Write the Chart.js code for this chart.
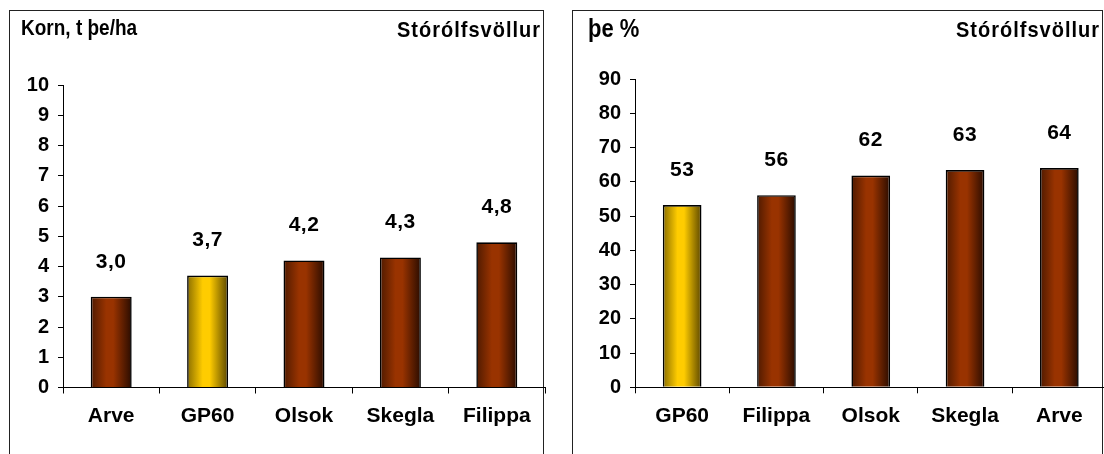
<!DOCTYPE html>
<html>
<head>
<meta charset="utf-8">
<script src="https://cdn.jsdelivr.net/npm/chart.js@4/dist/chart.umd.min.js"></script>
<style>
  html, body { margin: 0; padding: 0; background: #fff; overflow: hidden; }
  body { width: 1104px; height: 454px; position: relative; }
  .frame { position: absolute; top: 10px; height: 460px; border: 1px solid #222; box-sizing: border-box; }
  canvas { position: absolute; top: 0; }
</style>
</head>
<body>
<div class="frame" style="left:9px; width:535px;"></div>
<div class="frame" style="left:572px; width:531px;"></div>
<canvas id="yieldChart" width="552" height="454" style="left:0"></canvas>
<canvas id="dmChart" width="568" height="454" style="left:552px"></canvas>
<script>
// --- data ---
let yieldNames = ["Arve", "GP60", "Olsok", "Skegla", "Filippa"];
let yieldValues = [3.0, 3.7, 4.2, 4.3, 4.8];
let yieldTicks = [0, 1, 2, 3, 4, 5, 6, 7, 8, 9, 10];

let dmNames = ["GP60", "Filippa", "Olsok", "Skegla", "Arve"];
let dmValues = [53.2, 56.1, 61.8, 63.4, 64.0];
let dmTicks = [0, 10, 20, 30, 40, 50, 60, 70, 80, 90];

let place = "Stórólfsvöllur";
let yieldTitle = "Korn, t þe/ha";
let dmTitle = "þe %";

const FONT = '"Liberation Sans", Arial, sans-serif';
const BROWN = ["#4f1a00", "#993300", "#993300", "#2a0c00"];
const GOLD = ["#8a6e00", "#ffcc00", "#ffcc00", "#5c4800"];

// horizontal gradient across each bar
function barFill(c, barPct) {
    const chart = c.chart;
    const area = chart.chartArea;
    const cols = chart.data.labels[c.dataIndex] === "GP60" ? GOLD : BROWN;
    if (!area) return cols[1];
    const x = chart.scales.x.getPixelForValue(c.dataIndex);
    const w = area.width / chart.data.labels.length * barPct;
    const g = chart.ctx.createLinearGradient(x - w / 2, 0, x + w / 2, 0);
    g.addColorStop(0, cols[0]);
    g.addColorStop(0.38, cols[1]);
    g.addColorStop(0.55, cols[2]);
    g.addColorStop(1, cols[3]);
    return g;
}

// text drawn a bit taller than wide, like the original
function tallText(ctx, s, x, y, sy) {
    ctx.save();
    ctx.translate(x, y);
    ctx.scale(1, sy);
    ctx.fillText(s, 0, 0);
    ctx.restore();
}

// titles + value labels drawn as text on the canvas
const textPlugin = {
    id: "texts",
    afterDatasetsDraw(chart, args, opts) {
        const ctx = chart.ctx;
        ctx.save();
        ctx.fillStyle = "#000";
        ctx.textBaseline = "alphabetic";
        ctx.font = "bold " + opts.leftSize + "px " + FONT;
        ctx.textAlign = "left";
        tallText(ctx, opts.left, opts.leftX, opts.leftY, 1.15);
        ctx.font = "bold 20px " + FONT;
        ctx.letterSpacing = "1px";
        ctx.textAlign = "right";
        tallText(ctx, opts.right, opts.rightX, opts.rightY, 1.1);
        ctx.letterSpacing = "0.5px";
        ctx.font = "bold 21px " + FONT;
        ctx.textAlign = "center";
        ctx.textBaseline = "middle";
        const meta = chart.getDatasetMeta(0);
        meta.data.forEach((bar, i) => {
            ctx.fillText(opts.fmt(chart.data.datasets[0].data[i]), bar.x, bar.y - 35);
        });
        ctx.restore();
    }
};

function makeChart(id, labels, values, ticks, barPct, yWidth, pad, texts) {
    return new Chart(document.getElementById(id), {
        type: "bar",
        data: {
            labels: labels,
            datasets: [{
                data: values,
                backgroundColor: c => barFill(c, barPct),
                borderColor: "#000",
                borderWidth: 1.6,
                categoryPercentage: 1,
                barPercentage: barPct
            }]
        },
        options: {
            responsive: false,
            animation: false,
            layout: { padding: pad },
            plugins: { legend: { display: false }, tooltip: { enabled: false }, texts: texts },
            scales: {
                x: {
                    grid: { offset: true, drawOnChartArea: false, color: "#000", tickLength: 6 },
                    border: { color: "#000", width: 1 },
                    ticks: { color: "#000", font: { family: FONT, size: 21, weight: "bold" }, padding: 10, maxRotation: 0 },
                    afterFit: s => { s.height = 454 - pad.bottomAxis; }
                },
                y: {
                    min: ticks[0],
                    max: ticks[ticks.length - 1],
                    afterBuildTicks: s => { s.ticks = ticks.map(v => ({ value: v })); },
                    grid: { drawOnChartArea: false, color: "#000", tickLength: 5 },
                    border: { color: "#000", width: 1 },
                    ticks: { color: "#000", font: { family: FONT, size: 20, weight: "bold" }, padding: 9 },
                    afterFit: s => { s.width = yWidth; }
                }
            }
        },
        plugins: [textPlugin]
    });
}

makeChart("yieldChart", yieldNames, yieldValues, yieldTicks, 0.425, 63,
    { left: 0, right: 7, top: 85, bottom: 0, bottomAxis: 387.5 },
    { left: yieldTitle, leftSize: 19, leftX: 21, leftY: 35, right: place, rightX: 541, rightY: 37,
      fmt: v => v.toFixed(1).replace(".", ",") });

makeChart("dmChart", dmNames, dmValues, dmTicks, 0.41, 83,
    { left: 0, right: 13.5, top: 79, bottom: 0, bottomAxis: 387.3 },
    { left: dmTitle, leftSize: 22, leftX: 36, leftY: 37, right: place, rightX: 548, rightY: 37,
      fmt: v => String(Math.round(v)) });
</script>
</body>
</html>
